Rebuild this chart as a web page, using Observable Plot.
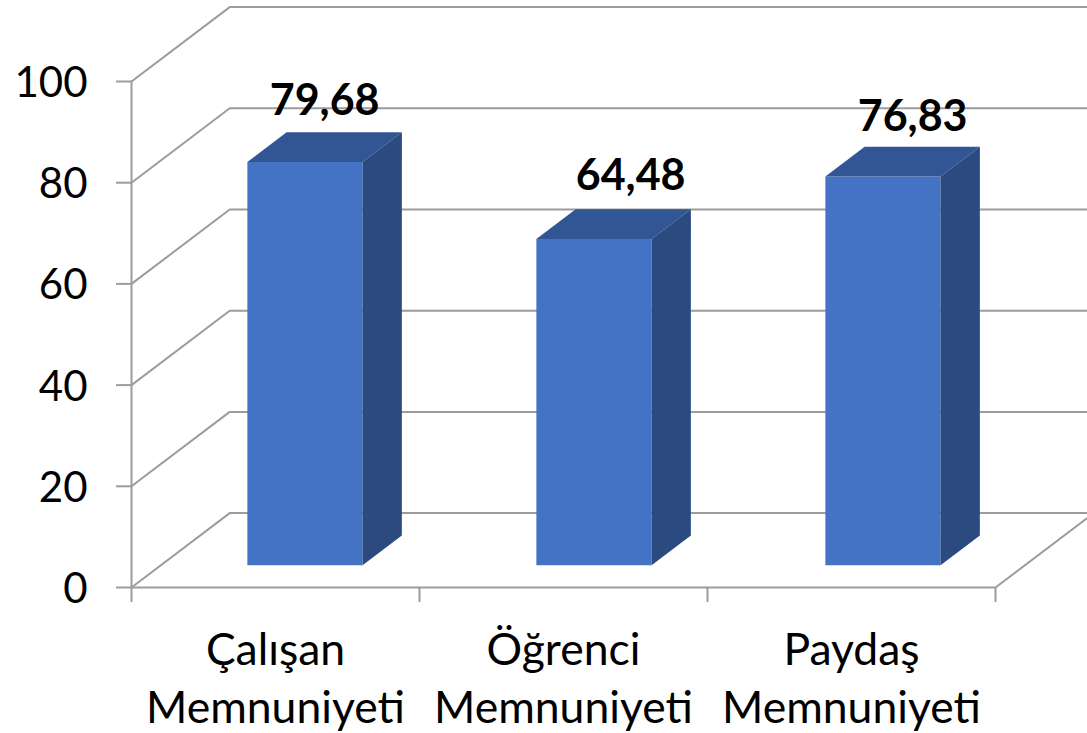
<!DOCTYPE html>
<html lang="tr">
<head>
<meta charset="utf-8">
<style>html,body{margin:0;padding:0;background:#fff}svg{display:block}</style>
<script src="https://cdn.jsdelivr.net/npm/d3@7"></script>
<script src="https://cdn.jsdelivr.net/npm/@observablehq/plot@0.6"></script>
</head>
<body>
<script>
const categories = ["Çalışan\nMemnuniyeti", "Öğrenci\nMemnuniyeti", "Paydaş\nMemnuniyeti"];
const values = [79.68, 64.48, 76.83];
const yTicks = [0, 20, 40, 60, 80, 100];
const xEdges = [0, 1, 2, 3];
const xCentres = [0.5, 1.5, 2.5];
// The reference's value labels were nudged by hand (category units, value units).
const labelShiftX = [0, 0.0626, 0.0417];
const labelShiftY = [-0.4, 0, -0.8];

// Oblique projection: a point at depth d (0 front, 1 back) is shifted in data units.
const depthX = 0.341, depthY = 14.7;
const barStep = 1.0035, barLeft = 0.30, barRight = 0.70, barFront = 0.30, barBack = 0.70;
const p = (x, v, d) => ({x: x + d * depthX, y: v + d * depthY});

const gridLines = [];
let id = 0;
for (const v of yTicks) {
  const k = id++;
  gridLines.push({k, ...p(0, v, 0)}, {k, ...p(0, v, 1)}, {k, ...p(3, v, 1)});
}
const floorId = id++;
gridLines.push({k: floorId, ...p(0, 0, 0)}, {k: floorId, ...p(3, 0, 0)}, {k: floorId, ...p(3, 0, 1)});
const wallId = id++;
gridLines.push({k: wallId, ...p(0, 0, 0)}, {k: wallId, ...p(0, 100, 0)});

const frontFaces = [], topFaces = [], sideFaces = [];
values.forEach((v, i) => {
  const l = i * barStep + barLeft, r = i * barStep + barRight;
  frontFaces.push([[l,0,barFront],[r,0,barFront],[r,v,barFront],[l,v,barFront]].map(a => ({k:i, ...p(...a)})));
  topFaces.push([[l,v,barFront],[r,v,barFront],[r,v,barBack],[l,v,barBack]].map(a => ({k:i, ...p(...a)})));
  sideFaces.push([[r,0,barFront],[r,0,barBack],[r,v,barBack],[r,v,barFront]].map(a => ({k:i, ...p(...a)})));
});
const face = (rows, fill) => Plot.line(rows.flat(), {x:"x", y:"y", z:"k", fill, stroke:"none", curve:"linear-closed"});

const labels = values.map((v, i) => ({
  xc: i + 0.5 + 0.5 * depthX + labelShiftX[i],
  y: v + barBack * depthY + labelShiftY[i],
  text: v.toFixed(2).replace(".", ",")
}));

const chart = Plot.plot({
  width: 1087,
  height: 733,
  marginLeft: 131,
  marginRight: 92,
  marginTop: 81,
  marginBottom: 146,
  style: {fontFamily: "Lato, sans-serif", background: "#fff", color: "#000"},
  x: {domain: [0, 3], label: null},
  y: {domain: [0, 100], label: null},
  marks: [
    Plot.line(gridLines, {x:"x", y:"y", z:"k", stroke:"#9c9c9c", strokeWidth:2}),
    Plot.axisY({ticks: yTicks, tickSize: 15, tickFormat: () => "", stroke:"#9c9c9c", strokeWidth:2, label:null}),
    Plot.axisY({ticks: yTicks, tickSize: 0, tickPadding: 44, fontSize: 42, dy: 2, fill:"#000", label:null}),
    Plot.axisX({ticks: xEdges, tickSize: 15, tickFormat: () => "", stroke:"#9c9c9c", strokeWidth:2, label:null}),
    Plot.axisX({ticks: xCentres, tickSize: 0, tickPadding: 36, fontSize: 44.5, lineHeight: 1.31, fill:"#000", tickFormat: d => categories[Math.floor(d)], label:null}),
    face(frontFaces, "#4472C4"),
    face(topFaces, "#325694"),
    face(sideFaces, "#2A4A80"),
    Plot.text(labels, {x:"xc", y:"y", text:"text", dy:-33, fontSize:43, fontWeight:700, fill:"#000"})
  ]
});
document.body.appendChild(chart);
</script>
</body>
</html>
